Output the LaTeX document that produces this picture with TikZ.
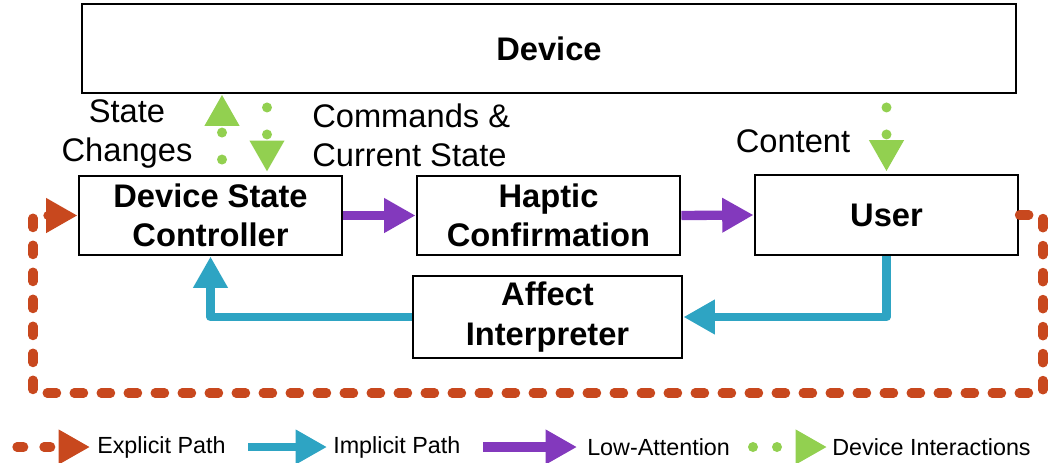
\documentclass[tikz,border=0pt]{standalone}
\usepackage{fontspec}
\setmainfont{Liberation Sans}
\usetikzlibrary{arrows.meta}

\definecolor{expl}{HTML}{C8481E}
\definecolor{impl}{HTML}{2EA4C3}
\definecolor{lowatt}{HTML}{8339BD}
\definecolor{devgreen}{HTML}{92D050}

\tikzset{
  box/.style={draw=black, line width=2.2pt, inner sep=0pt, align=center,
    font=\bfseries\fontsize{24.5}{29.5}\selectfont},
  lbl/.style={inner sep=0pt, font=\fontsize{24.5}{29.5}\selectfont},
  legtext/.style={inner sep=0pt, anchor=west, font=\fontsize{17.5}{21}\selectfont},
  tip/.style={-{Triangle[length=23.5pt,width=24.5pt]}},
  explicit/.style={tip, draw=expl, line width=7pt, line cap=round, line join=round,
    dash pattern=on 7pt off 13.25pt},
  implicit/.style={tip, draw=impl, line width=6.5pt, line join=round},
  lowatten/.style={tip, draw=lowatt, line width=7pt},
  devint/.style={tip, draw=devgreen, line width=7.5pt, line cap=round,
    dash pattern=on 0pt off 20.25pt},
}

\begin{document}
\begin{tikzpicture}[x=0.75pt, y=-0.75pt]
  \useasboundingbox (0,0) rectangle (1054,462);

  % blocks
  \node[box, minimum width=700.5pt, minimum height=66.75pt] (device) at (549,48.5) {Device};
  \node[box, minimum width=197.25pt, minimum height=59.25pt] (dsc) at (210.5,215.5) {Device State\\Controller};
  \node[box, minimum width=197.25pt, minimum height=59.25pt] (haptic) at (548.5,215.5) {Haptic\\Confirmation};
  \node[box, minimum width=197.25pt, minimum height=60pt] (user) at (886.5,215) {User};
  \node[box, minimum width=201.75pt, minimum height=61.5pt] (affect) at (547.5,317) {Affect\\Interpreter};

  % labels of the device interactions
  \node[lbl, align=center] (lstate) at (127,134) {State\\Changes};
  \node[lbl, align=left, anchor=west] (lcmd) at (312,135.5) {Commands \&\\Current State};
  \node[lbl] (lcontent) at (793,141) {Content};

  % device interactions
  \coordinate (gu) at (222,0);
  \coordinate (gd) at (267,0);
  \draw[devint, dash phase=9pt] (dsc.north -| gu) -- (device.south -| gu);
  \draw[devint, dash phase=10.5pt, shorten >=2pt] (device.south -| gd) -- (dsc.north -| gd);
  \draw[devint, dash phase=10.5pt, shorten >=1.5pt] (device.south -| user) -- (user.north);

  % low-attention path
  \draw[lowatten] (dsc.east) -- (haptic.west);
  \draw[lowatten] (haptic.east) -- (user.west);

  % implicit path
  \draw[implicit] (user.south) |- (affect.east);
  \draw[implicit] (affect.west) -| (dsc.south);

  % explicit path
  \coordinate (ebr) at (1043,393);
  \coordinate (ebl) at (33,393);
  \draw[explicit] (user.east) -| (ebr) -- (ebl) |- (dsc.west);

  % legend
  \coordinate (a1) at (17,447);   \coordinate (b1) at (90,447);
  \coordinate (a2) at (248,447);  \coordinate (b2) at (327,447);
  \coordinate (a3) at (483,447);  \coordinate (b3) at (577,447);
  \coordinate (a4) at (753,447);  \coordinate (b4) at (827,447);
  \draw[explicit, dash pattern=on 5pt off 15.25pt] (a1) -- (b1);
  \node[legtext] (t1) at (97,447) {Explicit Path};
  \draw[implicit] (a2) -- (b2);
  \node[legtext] (t2) at (333,447) {Implicit Path};
  \draw[lowatten] (a3) -- (b3);
  \node[legtext] (t3) at (587,447) {Low-Attention};
  \draw[devint, dash pattern=on 0pt off 18pt] (a4) -- (b4);
  \node[legtext] (t4) at (832,447) {Device Interactions};
\end{tikzpicture}
\end{document}
